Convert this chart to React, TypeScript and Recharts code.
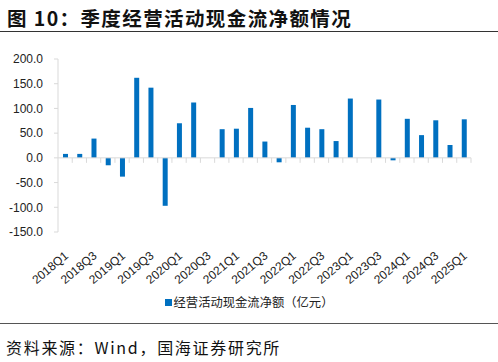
import React from 'react';
import { BarChart, Bar, XAxis, YAxis, ReferenceLine, Legend } from 'recharts';

const quarters = [
  '2018Q1', '2018Q2', '2018Q3', '2018Q4',
  '2019Q1', '2019Q2', '2019Q3', '2019Q4',
  '2020Q1', '2020Q2', '2020Q3', '2020Q4',
  '2021Q1', '2021Q2', '2021Q3', '2021Q4',
  '2022Q1', '2022Q2', '2022Q3', '2022Q4',
  '2023Q1', '2023Q2', '2023Q3', '2023Q4',
  '2024Q1', '2024Q2', '2024Q3', '2024Q4',
  '2025Q1',
];
const cashFlow = [
  8, 8, 39, -15,
  -38, 162, 142, -97,
  70, 112, 0, 58,
  59, 101, 33, -9,
  107, 61, 58, 34,
  120, 0, 118, -5,
  79, 46, 76, 26,
  78,
];
const yTicks = [-150, -100, -50, 0, 50, 100, 150, 200];
const seriesName = '经营活动现金流净额（亿元）';
const titleText = '图 10：季度经营活动现金流净额情况';
const sourceText = '资料来源：Wind，国海证券研究所';

const data = quarters.map((q, i) => ({ q, v: cashFlow[i] }));

const AXIS = '#d9d9d9';
const BLUE = '#0070C0';
const FONT = '"Noto Sans CJK SC", "Liberation Sans", Arial, sans-serif';

const XTick = (props: any) => {
  const { x, y, payload } = props;
  const ax = x + 4;
  const ay = y + 17;
  return (
    <text
      x={ax}
      y={ay}
      transform={`rotate(-40, ${ax}, ${ay})`}
      textAnchor="end"
      fontSize={12}
      fill="#222"
      fontFamily='"Liberation Sans", Arial, sans-serif'
    >
      {payload.value}
    </text>
  );
};

const ZeroLine = (props: any) => {
  const { x1, x2, y1 } = props;
  const n = data.length;
  const step = (x2 - x1) / n;
  const ticks = [];
  for (let i = 1; i <= n; i++) {
    const tx = x1 + step * i;
    ticks.push(<line key={i} x1={tx} x2={tx} y1={y1} y2={y1 + 5} stroke={AXIS} strokeWidth={1} />);
  }
  return (
    <g>
      <line x1={x1} x2={x2} y1={y1} y2={y1} stroke={AXIS} strokeWidth={1} />
      {ticks}
    </g>
  );
};

const LegendContent = () => (
  <div style={{ display: 'flex', justifyContent: 'center', alignItems: 'center', fontFamily: FONT, fontSize: 12.3, color: '#222' }}>
    <span style={{ display: 'inline-block', width: 7, height: 7, background: BLUE, marginRight: 2 }} />
    <span>{seriesName}</span>
  </div>
);

export default function App() {
  return (
    <div style={{ position: 'absolute', left: 0, top: 0, width: 498, height: 362, background: '#fff', overflow: 'hidden' }}>
      <div style={{ position: 'absolute', left: 7, top: 3, fontFamily: FONT, fontWeight: 700, fontSize: 19.5, color: '#111', whiteSpace: 'nowrap', letterSpacing: 1.4 }}>
        {titleText}
      </div>
      <div style={{ position: 'absolute', left: 0, top: 31, width: 498, height: 1, background: '#333' }} />
      <div style={{ position: 'absolute', left: 0, top: 0 }}>
        <BarChart width={498} height={320} data={data} margin={{ top: 59, right: 27, left: 0, bottom: 0 }}>
          <YAxis
            domain={[-150, 200]}
            ticks={yTicks}
            width={58}
            interval={0}
            tickFormatter={(v: number) => v.toFixed(1)}
            axisLine={{ stroke: AXIS }}
            tickLine={{ stroke: AXIS }}
            tickSize={4}
            tickMargin={11}
            tick={{ fontSize: 12, fill: '#222', fontFamily: '"Liberation Sans", Arial, sans-serif' }}
          />
          <XAxis
            dataKey="q"
            height={88}
            interval={1}
            axisLine={false}
            tickLine={false}
            tick={<XTick />}
          />
          <ReferenceLine y={0} shape={<ZeroLine />} />
          <Legend
            verticalAlign="middle"
            align="center"
            wrapperStyle={{ top: 293, left: 0, width: 498 }}
            content={<LegendContent />}
          />
          <Bar dataKey="v" name={seriesName} fill={BLUE} barSize={5} isAnimationActive={false} />
        </BarChart>
      </div>
      <div style={{ position: 'absolute', left: 0, top: 323, width: 498, height: 1, background: '#555' }} />
      <div style={{ position: 'absolute', left: 6, top: 335, fontFamily: FONT, fontSize: 16, color: '#111', whiteSpace: 'nowrap', letterSpacing: 1.7 }}>
        {sourceText}
      </div>
    </div>
  );
}
